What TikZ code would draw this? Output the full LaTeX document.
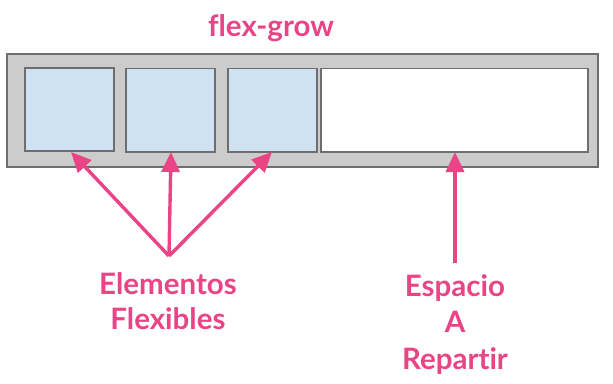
\documentclass[tikz,border=0pt]{standalone}
\usepackage{fontspec}
\setmainfont{Lato}[UprightFont=* Bold, Ligatures=NoCommon]
\usetikzlibrary{arrows.meta}
\definecolor{pinkc}{HTML}{EA4487}
\definecolor{framec}{HTML}{CCCCCC}
\definecolor{itemc}{HTML}{CFE2F3}
\definecolor{edgec}{HTML}{6E6E6E}
\tikzset{
  box/.style={draw=edgec, line width=1.2pt},
  label/.style={text=pinkc, font=\fontsize{29.5}{35}\selectfont, align=center, inner sep=0pt, anchor=base},
  pointer/.style={draw=pinkc, line width=3.4pt, -{Triangle[length=20pt,width=18pt]}}
}
\begin{document}
\begin{tikzpicture}[x=1pt,y=-1pt]
  \useasboundingbox[fill=white] (0,0) rectangle (613,383);
  % container
  \filldraw[box, fill=framec] (7,54) rectangle (598,167);
  % flexible items and free space
  \filldraw[box, fill=itemc] (25,68) rectangle (114,151);
  \filldraw[box, fill=itemc] (126,68.5) rectangle (215,152);
  \filldraw[box, fill=itemc] (228,68.5) rectangle (317,152);
  \filldraw[box, fill=white] (321,68.5) rectangle (588,152);
  % tip targets
  \coordinate (t1) at (71,152);
  \coordinate (t2) at (171,152);
  \coordinate (t3) at (272,152);
  \coordinate (t4) at (455,152);
  \coordinate (src) at (169,256);
  \coordinate (src2) at (455,263);
  % labels (base anchor sits on the last line)
  \node[label] (title) at (271,36) {flex-grow};
  \node[label] (elem) at (168,329) {Elementos\\Flexibles};
  \node[label, font=\fontsize{29.5}{36.5}\selectfont] (space) at (455,369) {Espacio\\A\\Repartir};
  % arrows
  \draw[pointer] (src) -- (t1);
  \draw[pointer] (src) -- (t2);
  \draw[pointer] (src) -- (t3);
  \draw[pointer] (src2) -- (t4);
\end{tikzpicture}
\end{document}
